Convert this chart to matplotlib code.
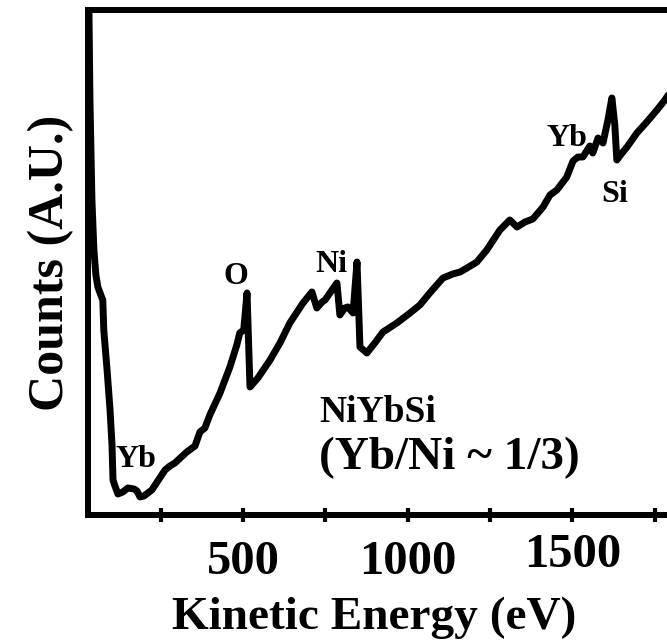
import matplotlib.pyplot as plt
import matplotlib.transforms as mtransforms

plt.rcParams['font.family'] = ['Liberation Serif', 'DejaVu Serif']
plt.rcParams['font.weight'] = 'bold'

# Auger spectrum of NiYbSi
energy = [32, 35, 41, 47, 53, 59, 68, 74, 77, 87, 96, 102, 105, 111, 120, 135, 150,
          169, 178, 187, 199, 223, 247, 263, 278, 293, 329, 354, 369, 384, 399, 430,
          460, 481, 490, 502, 512, 521, 545, 582, 612, 642, 682, 709, 724, 740, 749,
          770, 785, 794, 809, 818, 834, 846, 855, 876, 900, 925, 967, 1007, 1037, 1067,
          1107, 1137, 1159, 1180, 1210, 1240, 1280, 1310, 1332, 1356, 1380, 1411, 1432,
          1453, 1483, 1502, 1517, 1532, 1553, 1562, 1578, 1593, 1608, 1620, 1629, 1635,
          1651, 1666, 1696, 1726, 1757, 1781, 1811, 1857]
counts = [503, 415, 315, 265, 240, 228, 220, 215, 185, 145, 105, 70, 35, 29, 21, 23, 27,
          26, 24, 18, 19, 25, 37, 45, 49, 52, 63, 69, 83, 87, 100, 122,
          148, 170, 182, 185, 222, 128, 137, 155, 172, 192, 212, 223, 207, 213, 215,
          225, 232, 200, 207, 208, 202, 253, 168, 162, 172, 183, 192, 202, 210, 222,
          237, 241, 243, 247, 253, 265, 285, 295, 288, 293, 296, 308, 320,
          325, 338, 354, 358, 358, 369, 362, 377, 372, 395, 417, 390, 355,
          362, 368, 382, 393, 405, 415, 430, 445]

peak_labels = ['O', 'Ni', 'Yb', 'Yb', 'Si']
peak_x = [479, 767, 175, 1483, 1629]
peak_y = [238, 250, 55, 376, 320]

fig = plt.figure(figsize=(6.67, 6.41), dpi=100)
ax = fig.add_axes([0.1319, 0.1966, 0.899, 0.7878])

ax.plot(energy, counts, color='black', linewidth=5, solid_joinstyle='round',
        solid_capstyle='round')

ax.set_xlim(29, 1850)
ax.set_ylim(0, 505)

for s in ax.spines.values():
    s.set_linewidth(4.3)
ax.spines['right'].set_visible(False)

ax.set_xticks([250, 500, 750, 1000, 1250, 1500, 1750])
ax.set_xticklabels(['', '500', '', '1000', '', '1500', ''])
ax.tick_params(axis='x', direction='inout', length=10, width=3, labelsize=35, pad=13)
ax.set_yticks([])

# the 1500 label sits a bit higher in the original
lab = ax.get_xticklabels()[5]
lab.set_transform(lab.get_transform() + mtransforms.ScaledTranslation(0, 7 / 100, fig.dpi_scale_trans))

ax.set_xlabel('Kinetic Energy (eV)', fontsize=34, fontweight='bold', labelpad=9)
ax.xaxis.label.set_x(0.477)
ax.set_ylabel('Counts (A.U.)', fontsize=36, fontweight='bold', labelpad=10)

for t, x, y in zip(peak_labels, peak_x, peak_y):
    ax.text(x, y, t, fontsize=23, fontweight='bold', ha='center', va='center')

ax.text(730, 93, 'NiYbSi', fontsize=27, fontweight='bold', ha='left', va='baseline')
ax.text(730, 46, '(Yb/Ni ~ 1/3)', fontsize=34, fontweight='bold', ha='left', va='baseline')

fig.savefig('out.png', dpi=100)
